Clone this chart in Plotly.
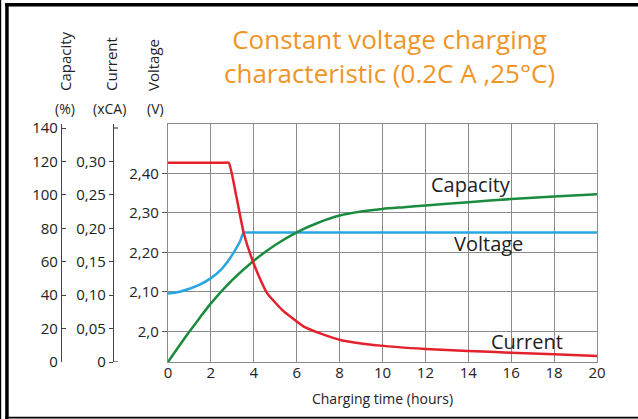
import plotly.graph_objects as go

W, H = 638, 419

# ---- data ----
volt_t = [0, 0.5, 1, 1.5, 2.0, 2.5, 2.8, 3.1, 3.35, 3.53, 3.8, 20]
volt_v = [2.096, 2.100, 2.108, 2.119, 2.135, 2.158, 2.178, 2.203, 2.227, 2.250, 2.250, 2.250]

cap_t = [0, 0.5, 1, 1.5, 2, 3, 4, 5, 6, 7, 8, 9, 10, 11, 12, 14, 16, 18, 20]
cap_v = [0, 9.3, 18.2, 26.8, 35.1, 49.1, 60.6, 70.0, 77.6, 83.3, 87.6, 90.0, 91.6, 92.6, 93.6, 95.6, 97.5, 99.0, 100.4]

cur_t = [0, 2.6, 2.83, 3.19, 3.53, 3.93, 4.31, 4.62, 5.32, 6.33, 7.0, 8.04, 9.9, 12, 14, 16, 18, 20]
cur_v = [0.298, 0.298, 0.298, 0.247, 0.193, 0.153, 0.123, 0.103, 0.078, 0.053, 0.044, 0.033, 0.0245, 0.0195, 0.0165, 0.0139, 0.0115, 0.0090]

x_ticks = list(range(0, 21, 2))
volt_ticks = [2.0, 2.1, 2.2, 2.3, 2.4]
volt_text = ["2,0", "2,10", "2,20", "2,30", "2,40"]
cap_ticks = [0, 20, 40, 60, 80, 100, 120, 140]
cur_ticks = [0, 0.05, 0.10, 0.15, 0.20, 0.25, 0.30]
cur_text = ["0", "0,05", "0,10", "0,15", "0,20", "0,25", "0,30"]

RED = "#E3202B"
BLUE = "#28A6DF"
GREEN = "#1B8C3F"
ORANGE = "#EF9525"
FONT = "Open Sans"
TXT = "#222222"

# ---- layout geometry ----
px_l, px_r, px_t, px_b = 168, 597, 124, 362
xd = [px_l / W, px_r / W]
yd = [1 - px_b / H, 1 - px_t / H]
cap_axis_x = 61 / W
cur_axis_x = 113 / W
cap_top = 140 * (px_b - px_t) / (px_b - 128)
cur_top = 0.35 * (px_b - px_t) / (px_b - 128)

fig = go.Figure()
fig.add_trace(go.Scatter(x=volt_t, y=volt_v, mode="lines",
                         line=dict(color=BLUE, width=2.5, shape="spline", smoothing=0.6),
                         yaxis="y", showlegend=False, hoverinfo="skip"))
fig.add_trace(go.Scatter(x=cap_t, y=cap_v, mode="lines",
                         line=dict(color=GREEN, width=2.5, shape="spline", smoothing=0.6),
                         yaxis="y2", showlegend=False, hoverinfo="skip"))
fig.add_trace(go.Scatter(x=cur_t, y=cur_v, mode="lines",
                         line=dict(color=RED, width=2.5, shape="spline", smoothing=0.5),
                         yaxis="y3", showlegend=False, hoverinfo="skip"))

grid = "#8a8a8a"
fig.update_layout(
    width=W, height=H, autosize=False,
    margin=dict(l=0, r=0, t=0, b=0, autoexpand=False),
    paper_bgcolor="white", plot_bgcolor="white",
    font=dict(family=FONT, color=TXT, size=15),
    xaxis=dict(domain=xd, range=[0, 20], tickvals=x_ticks, showgrid=True, gridcolor=grid, gridwidth=1.3,
               showline=True, linecolor=grid, linewidth=1.3, mirror=True, zeroline=False, automargin=False,
               ticks="", tickfont=dict(size=15, color=TXT), ticklabelstandoff=-3,
               title=dict(text="Charging time (hours)", font=dict(size=14, color=TXT), standoff=13)),
    yaxis=dict(domain=yd, range=[1.923, 2.5245], tickvals=volt_ticks, ticktext=volt_text, automargin=False,
               showgrid=True, gridcolor=grid, gridwidth=1.3, showline=True, linecolor=grid, linewidth=1.3,
               mirror=True, zeroline=False, ticks="outside", ticklen=5, tickcolor="#555", tickwidth=1.2,
               tickfont=dict(size=15, color=TXT)),
    yaxis2=dict(overlaying="y", anchor="free", position=cap_axis_x, side="left", range=[0, cap_top],
                tickvals=cap_ticks, showgrid=False, zeroline=False, showline=True, linecolor="#444",
                linewidth=1.2, ticks="inside", ticklen=4, tickcolor="#444", tickwidth=1.2, automargin=False,
                tickfont=dict(size=15, color=TXT)),
    yaxis3=dict(overlaying="y", anchor="free", position=cur_axis_x, side="left", range=[0, cur_top],
                tickvals=cur_ticks, ticktext=cur_text, showgrid=False, zeroline=False, showline=True,
                linecolor="#444", linewidth=1.2, ticks="outside", ticklen=4, tickcolor="#444", tickwidth=1.2,
                automargin=False, tickfont=dict(size=15, color=TXT)),
)

# end caps on current axis
for v in [0, 0.35]:
    fig.add_shape(type="line", xref="paper", yref="y3", x0=cur_axis_x, x1=cur_axis_x + 5 / W, y0=v, y1=v,
                  line=dict(color="#444", width=1.2))

# frame
fig.add_shape(type="rect", xref="paper", yref="paper", x0=5 / W, x1=1, y0=1 - 6.5 / H, y1=1 - 3 / H,
              fillcolor="black", line=dict(width=0), layer="above")
fig.add_shape(type="rect", xref="paper", yref="paper", x0=5.2 / W, x1=8.7 / W, y0=0, y1=1 - 3 / H,
              fillcolor="black", line=dict(width=0), layer="above")
fig.add_shape(type="rect", xref="paper", yref="paper", x0=0, x1=1.2 / W, y0=0, y1=1,
              fillcolor="black", line=dict(width=0), layer="above")
fig.add_shape(type="rect", xref="paper", yref="paper", x0=5 / W, x1=1, y0=0.5 / H, y1=2.3 / H,
              fillcolor="black", line=dict(width=0), layer="above")

# title
fig.add_annotation(text="Constant voltage charging<br>characteristic (0.2C A ,25°C)", xref="paper", yref="paper",
                   x=389 / W, y=1 - 56 / H, xanchor="center", yanchor="middle", showarrow=False,
                   font=dict(size=26, color=ORANGE, family=FONT), align="center")

# axis titles (rotated) and units
for name, cx in [("Capacity", 65), ("Current", 111), ("Voltage", 153)]:
    fig.add_annotation(text=name, textangle=-90, xref="paper", yref="paper", x=cx / W, y=1 - 93 / H,
                       xanchor="center", yanchor="bottom", showarrow=False, font=dict(size=15, color=TXT))
for unit, cx in [("(%)", 65), ("(xCA)", 109), ("(V)", 155)]:
    fig.add_annotation(text=unit, xref="paper", yref="paper", x=cx / W, y=1 - 109 / H,
                       xanchor="center", yanchor="middle", showarrow=False, font=dict(size=14, color=TXT))

# curve labels
for name, cx, cy in [("Capacity", 471, 185), ("Voltage", 488, 243), ("Current", 527, 341)]:
    fig.add_annotation(text=name, xref="paper", yref="paper", x=cx / W, y=1 - cy / H,
                       xanchor="center", yanchor="middle", showarrow=False, font=dict(size=20, color=TXT))

fig.write_html("out.html", config={"displayModeBar": False},
               post_script="document.body.style.margin='0';")
